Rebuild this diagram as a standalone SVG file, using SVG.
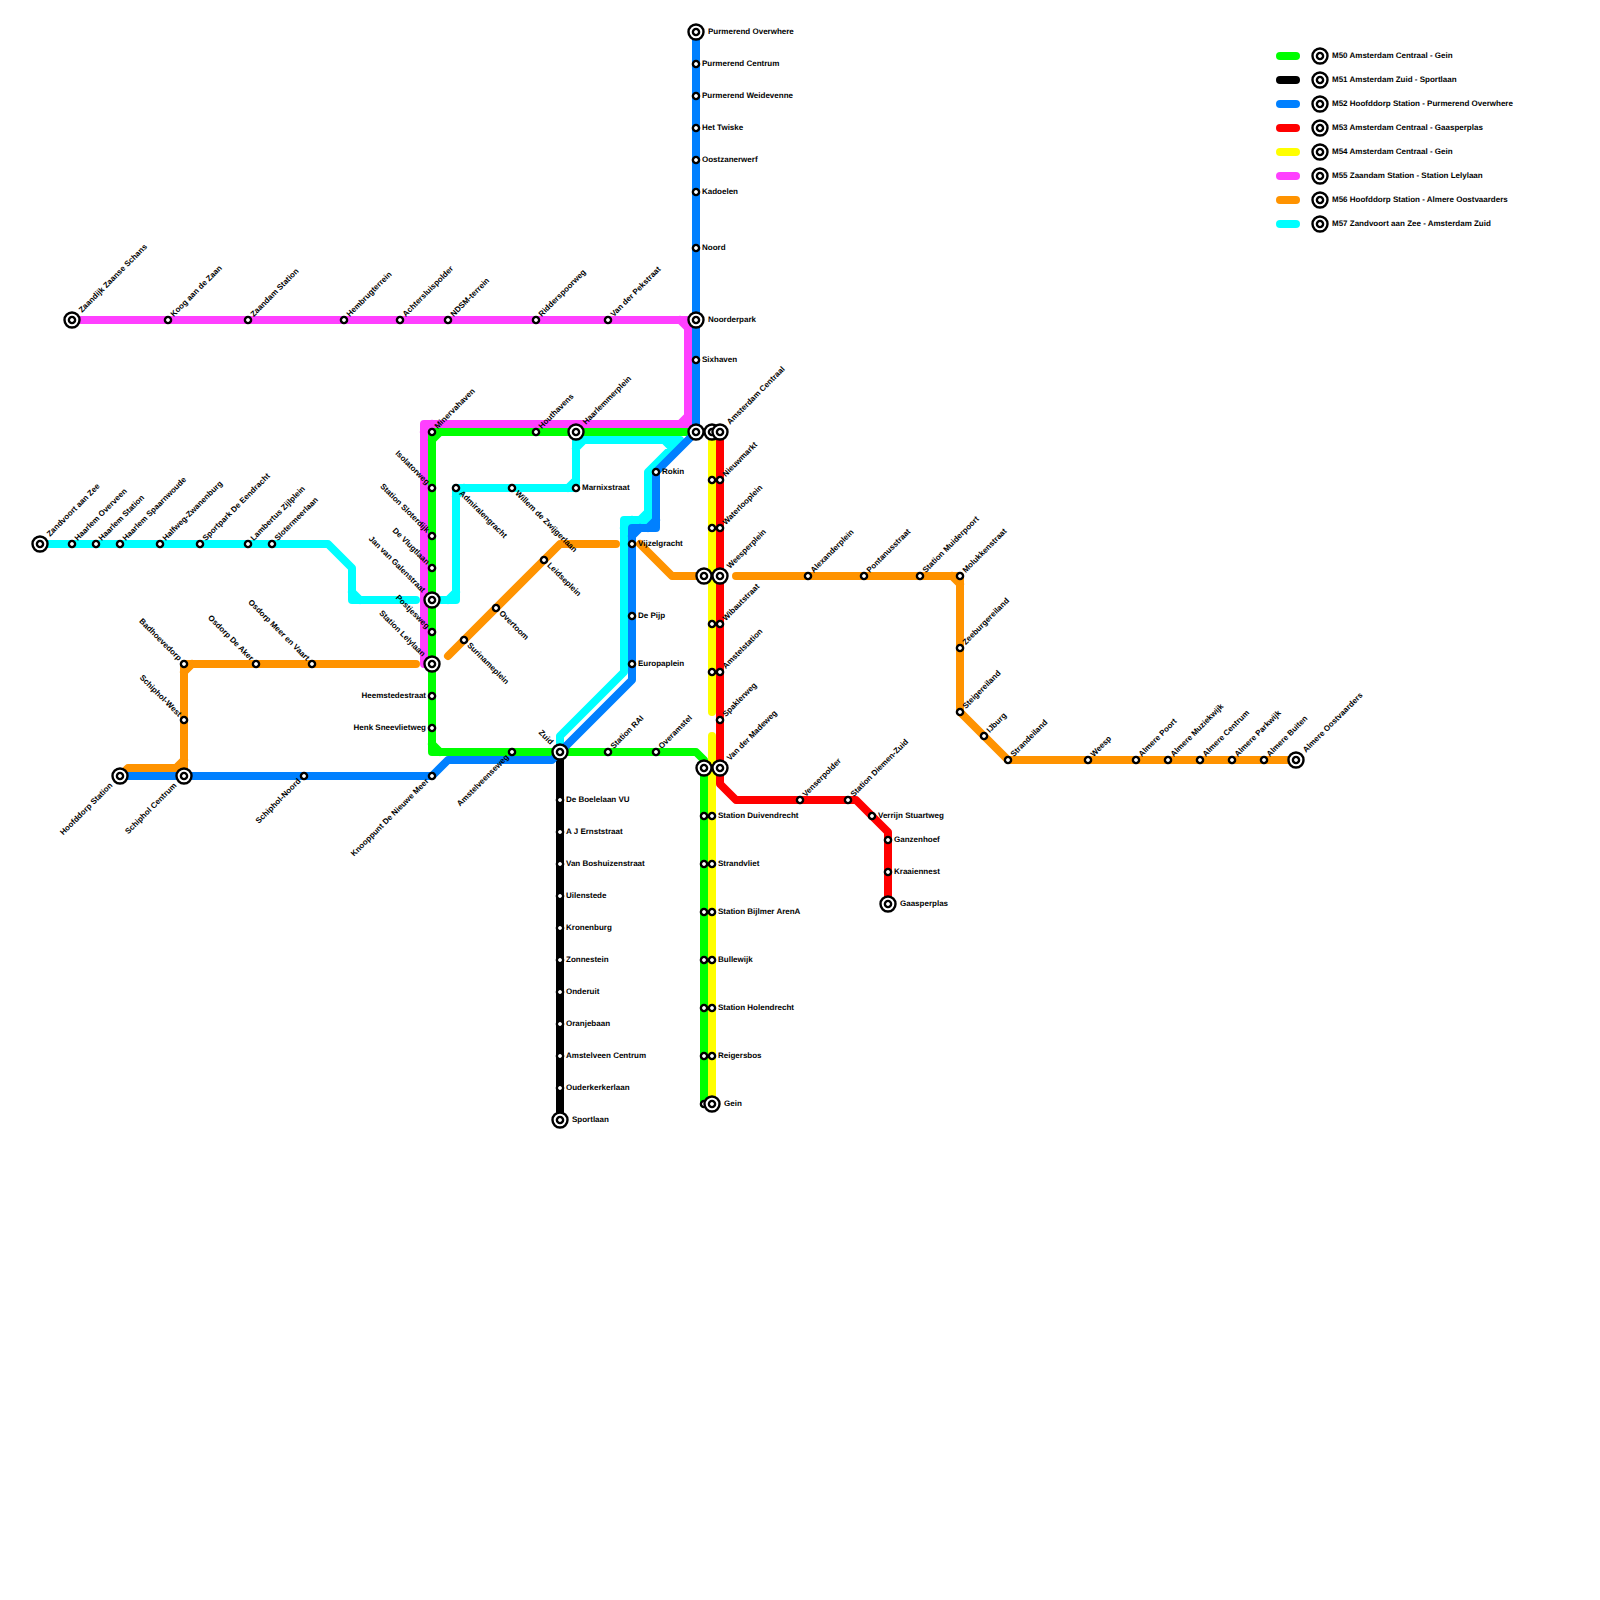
<svg xmlns="http://www.w3.org/2000/svg" width="1600" height="1600" viewBox="0 0 1600 1600">
<style>
.ln{fill:none;stroke-width:8;stroke-linecap:round;stroke-linejoin:round}
.ring{fill:#fff;stroke:#000;stroke-width:2.4}
text{font-family:"Liberation Sans",Arial,sans-serif;font-size:8px;font-weight:700;fill:#000;text-rendering:geometricPrecision}
.e{text-anchor:end}
</style>
<defs>
<g id="s"><circle class="ring" r="3.1"/></g>
<g id="b"><circle class="ring" r="7.5"/><circle class="ring" r="3.1"/></g>
</defs>
<rect width="1600" height="1600" fill="#fff"/>
<g id="connectors">
<path id="M55" class="ln" stroke="#ff40ff" d="M72,320H688V424H424V664H432M680,320L688,328M688,416L680,424M432,424L424,432"/>
<path id="M56" class="ln" stroke="#ff9300" d="M120,776L128,768H184M184,776V664H416M176,768L184,760M184,672L192,664M448,656L560,544H616M640,544L672,576H704M736,576H960V712L1008,760H1296M952,576L960,584"/>
<path id="M57" class="ln" stroke="#00ffff" d="M40,544H328L352,568V600H416M352,592L360,600M432,600H456V488H576V440H680L648,472V520H624V672L560,736V752M448,600L456,592M456,496L464,488M568,488L576,480M576,448L584,440M664,440L672,448M648,512L640,520M632,520L624,528"/>
<path id="M50" class="ln" stroke="#00ff00" d="M696,432H432V752H696L704,760V1104M440,432L432,440M432,744L440,752"/>
<path id="M51" class="ln" stroke="#000" d="M560,752V1120"/>
<path id="M52" class="ln" stroke="#0080ff" d="M120,776H432L448,760H552L560,752L632,680V528H656V472L696,432V32M632,536L640,528M648,528L656,520"/>
<path id="M53" class="ln" stroke="#ff0000" d="M720,432V784L736,800H856L888,832V904"/>
<path id="M54" class="ln" stroke="#ffff00" d="M712,432V712M712,736V1104"/>
</g>
<g id="nodes">
<g id="n1" transform="translate(72,320)"><use href="#b"/><text x="12" y="2" transform="rotate(-45)">Zaandijk Zaanse Schans</text></g>
<g id="n2" transform="translate(168,320)"><use href="#s"/><text x="6" y="2" transform="rotate(-45)">Koog aan de Zaan</text></g>
<g id="n3" transform="translate(248,320)"><use href="#s"/><text x="6" y="2" transform="rotate(-45)">Zaandam Station</text></g>
<g id="n4" transform="translate(344,320)"><use href="#s"/><text x="6" y="2" transform="rotate(-45)">Hembrugterrein</text></g>
<g id="n5" transform="translate(400,320)"><use href="#s"/><text x="6" y="2" transform="rotate(-45)">Achtersluispolder</text></g>
<g id="n6" transform="translate(448,320)"><use href="#s"/><text x="6" y="2" transform="rotate(-45)">NDSM-terrein</text></g>
<g id="n7" transform="translate(536,320)"><use href="#s"/><text x="6" y="2" transform="rotate(-45)">Ridderspoorweg</text></g>
<g id="n8" transform="translate(608,320)"><use href="#s"/><text x="6" y="2" transform="rotate(-45)">Van der Pekstraat</text></g>
<g id="n9" transform="translate(696,32)"><use href="#b"/><text x="12" y="2">Purmerend Overwhere</text></g>
<g id="n10" transform="translate(696,64)"><use href="#s"/><text x="6" y="2">Purmerend Centrum</text></g>
<g id="n11" transform="translate(696,96)"><use href="#s"/><text x="6" y="2">Purmerend Weidevenne</text></g>
<g id="n12" transform="translate(696,128)"><use href="#s"/><text x="6" y="2">Het Twiske</text></g>
<g id="n13" transform="translate(696,160)"><use href="#s"/><text x="6" y="2">Oostzanerwerf</text></g>
<g id="n14" transform="translate(696,192)"><use href="#s"/><text x="6" y="2">Kadoelen</text></g>
<g id="n15" transform="translate(696,248)"><use href="#s"/><text x="6" y="2">Noord</text></g>
<g id="n16" transform="translate(696,320)"><use href="#b"/><text x="12" y="2">Noorderpark</text></g>
<g id="n17" transform="translate(696,360)"><use href="#s"/><text x="6" y="2">Sixhaven</text></g>
<g id="n18" transform="translate(696,432)"><use href="#b"/></g>
<g id="n19" transform="translate(712,432)"><use href="#b"/></g>
<g id="n20" transform="translate(720,432)"><use href="#b"/><text x="12" y="2" transform="rotate(-45)">Amsterdam Centraal</text></g>
<g id="n21" transform="translate(432,432)"><use href="#s"/><text x="6" y="2" transform="rotate(-45)">Minervahaven</text></g>
<g id="n22" transform="translate(536,432)"><use href="#s"/><text x="6" y="2" transform="rotate(-45)">Houthavens</text></g>
<g id="n23" transform="translate(576,432)"><use href="#b"/><text x="12" y="2" transform="rotate(-45)">Haarlemmerplein</text></g>
<g id="n24" transform="translate(432,488)"><use href="#s"/><text class="e" x="-6" y="2" transform="rotate(45)">Isolatorweg</text></g>
<g id="n25" transform="translate(432,536)"><use href="#s"/><text class="e" x="-6" y="2" transform="rotate(45)">Station Sloterdijk</text></g>
<g id="n26" transform="translate(432,568)"><use href="#s"/><text class="e" x="-6" y="2" transform="rotate(45)">De Vlugtlaan</text></g>
<g id="n27" transform="translate(432,600)"><use href="#b"/><text class="e" x="-12" y="2" transform="rotate(45)">Jan van Galenstraat</text></g>
<g id="n28" transform="translate(432,632)"><use href="#s"/><text class="e" x="-6" y="2" transform="rotate(45)">Postjesweg</text></g>
<g id="n29" transform="translate(432,664)"><use href="#b"/><text class="e" x="-12" y="2" transform="rotate(45)">Station Lelylaan</text></g>
<g id="n30" transform="translate(432,696)"><use href="#s"/><text class="e" x="-6" y="2">Heemstedestraat</text></g>
<g id="n31" transform="translate(432,728)"><use href="#s"/><text class="e" x="-6" y="2">Henk Sneevlietweg</text></g>
<g id="n32" transform="translate(512,752)"><use href="#s"/><text class="e" x="-6" y="2" transform="rotate(-45)">Amstelveenseweg</text></g>
<g id="n33" transform="translate(560,752)"><use href="#b"/><text class="e" x="-12" y="2" transform="rotate(45)">Zuid</text></g>
<g id="n34" transform="translate(608,752)"><use href="#s"/><text x="6" y="2" transform="rotate(-45)">Station RAI</text></g>
<g id="n35" transform="translate(656,752)"><use href="#s"/><text x="6" y="2" transform="rotate(-45)">Overamstel</text></g>
<g id="n36" transform="translate(704,768)"><use href="#b"/></g>
<g id="n37" transform="translate(720,768)"><use href="#b"/><text x="12" y="2" transform="rotate(-45)">Van der Madeweg</text></g>
<g id="n38" transform="translate(704,816)"><use href="#s"/></g>
<g id="n39" transform="translate(712,816)"><use href="#s"/><text x="6" y="2">Station Duivendrecht</text></g>
<g id="n40" transform="translate(704,864)"><use href="#s"/></g>
<g id="n41" transform="translate(712,864)"><use href="#s"/><text x="6" y="2">Strandvliet</text></g>
<g id="n42" transform="translate(704,912)"><use href="#s"/></g>
<g id="n43" transform="translate(712,912)"><use href="#s"/><text x="6" y="2">Station Bijlmer ArenA</text></g>
<g id="n44" transform="translate(704,960)"><use href="#s"/></g>
<g id="n45" transform="translate(712,960)"><use href="#s"/><text x="6" y="2">Bullewijk</text></g>
<g id="n46" transform="translate(704,1008)"><use href="#s"/></g>
<g id="n47" transform="translate(712,1008)"><use href="#s"/><text x="6" y="2">Station Holendrecht</text></g>
<g id="n48" transform="translate(704,1056)"><use href="#s"/></g>
<g id="n49" transform="translate(712,1056)"><use href="#s"/><text x="6" y="2">Reigersbos</text></g>
<g id="n50" transform="translate(704,1104)"><use href="#s"/></g>
<g id="n51" transform="translate(712,1104)"><use href="#b"/><text x="12" y="2">Gein</text></g>
<g id="n52" transform="translate(560,800)"><use href="#s"/><text x="6" y="2">De Boelelaan VU</text></g>
<g id="n53" transform="translate(560,832)"><use href="#s"/><text x="6" y="2">A J Ernststraat</text></g>
<g id="n54" transform="translate(560,864)"><use href="#s"/><text x="6" y="2">Van Boshuizenstraat</text></g>
<g id="n55" transform="translate(560,896)"><use href="#s"/><text x="6" y="2">Uilenstede</text></g>
<g id="n56" transform="translate(560,928)"><use href="#s"/><text x="6" y="2">Kronenburg</text></g>
<g id="n57" transform="translate(560,960)"><use href="#s"/><text x="6" y="2">Zonnestein</text></g>
<g id="n58" transform="translate(560,992)"><use href="#s"/><text x="6" y="2">Onderuit</text></g>
<g id="n59" transform="translate(560,1024)"><use href="#s"/><text x="6" y="2">Oranjebaan</text></g>
<g id="n60" transform="translate(560,1056)"><use href="#s"/><text x="6" y="2">Amstelveen Centrum</text></g>
<g id="n61" transform="translate(560,1088)"><use href="#s"/><text x="6" y="2">Ouderkerkerlaan</text></g>
<g id="n62" transform="translate(560,1120)"><use href="#b"/><text x="12" y="2">Sportlaan</text></g>
<g id="n63" transform="translate(120,776)"><use href="#b"/><text class="e" x="-12" y="2" transform="rotate(-45)">Hoofddorp Station</text></g>
<g id="n64" transform="translate(184,776)"><use href="#b"/><text class="e" x="-12" y="2" transform="rotate(-45)">Schiphol Centrum</text></g>
<g id="n65" transform="translate(304,776)"><use href="#s"/><text class="e" x="-6" y="2" transform="rotate(-45)">Schiphol-Noord</text></g>
<g id="n66" transform="translate(432,776)"><use href="#s"/><text class="e" x="-6" y="2" transform="rotate(-45)">Knooppunt De Nieuwe Meer</text></g>
<g id="n67" transform="translate(632,544)"><use href="#s"/><text x="6" y="2">Vijzelgracht</text></g>
<g id="n68" transform="translate(632,616)"><use href="#s"/><text x="6" y="2">De Pijp</text></g>
<g id="n69" transform="translate(632,664)"><use href="#s"/><text x="6" y="2">Europaplein</text></g>
<g id="n70" transform="translate(656,472)"><use href="#s"/><text x="6" y="2">Rokin</text></g>
<g id="n71" transform="translate(712,480)"><use href="#s"/></g>
<g id="n72" transform="translate(720,480)"><use href="#s"/><text x="6" y="2" transform="rotate(-45)">Nieuwmarkt</text></g>
<g id="n73" transform="translate(712,528)"><use href="#s"/></g>
<g id="n74" transform="translate(720,528)"><use href="#s"/><text x="6" y="2" transform="rotate(-45)">Waterlooplein</text></g>
<g id="n75" transform="translate(704,576)"><use href="#b"/></g>
<g id="n76" transform="translate(720,576)"><use href="#b"/><text x="12" y="2" transform="rotate(-45)">Weesperplein</text></g>
<g id="n77" transform="translate(712,624)"><use href="#s"/></g>
<g id="n78" transform="translate(720,624)"><use href="#s"/><text x="6" y="2" transform="rotate(-45)">Wibautstraat</text></g>
<g id="n79" transform="translate(712,672)"><use href="#s"/></g>
<g id="n80" transform="translate(720,672)"><use href="#s"/><text x="6" y="2" transform="rotate(-45)">Amstelstation</text></g>
<g id="n81" transform="translate(720,720)"><use href="#s"/><text x="6" y="2" transform="rotate(-45)">Spaklerweg</text></g>
<g id="n82" transform="translate(800,800)"><use href="#s"/><text x="6" y="2" transform="rotate(-45)">Venserpolder</text></g>
<g id="n83" transform="translate(848,800)"><use href="#s"/><text x="6" y="2" transform="rotate(-45)">Station Diemen-Zuid</text></g>
<g id="n84" transform="translate(872,816)"><use href="#s"/><text x="6" y="2">Verrijn Stuartweg</text></g>
<g id="n85" transform="translate(888,840)"><use href="#s"/><text x="6" y="2">Ganzenhoef</text></g>
<g id="n86" transform="translate(888,872)"><use href="#s"/><text x="6" y="2">Kraaiennest</text></g>
<g id="n87" transform="translate(888,904)"><use href="#b"/><text x="12" y="2">Gaasperplas</text></g>
<g id="n88" transform="translate(40,544)"><use href="#b"/><text x="12" y="2" transform="rotate(-45)">Zandvoort aan Zee</text></g>
<g id="n89" transform="translate(72,544)"><use href="#s"/><text x="6" y="2" transform="rotate(-45)">Haarlem Overveen</text></g>
<g id="n90" transform="translate(96,544)"><use href="#s"/><text x="6" y="2" transform="rotate(-45)">Haarlem Station</text></g>
<g id="n91" transform="translate(120,544)"><use href="#s"/><text x="6" y="2" transform="rotate(-45)">Haarlem Spaarnwoude</text></g>
<g id="n92" transform="translate(160,544)"><use href="#s"/><text x="6" y="2" transform="rotate(-45)">Halfweg-Zwanenburg</text></g>
<g id="n93" transform="translate(200,544)"><use href="#s"/><text x="6" y="2" transform="rotate(-45)">Sportpark De Eendracht</text></g>
<g id="n94" transform="translate(248,544)"><use href="#s"/><text x="6" y="2" transform="rotate(-45)">Lambertus Zijlplein</text></g>
<g id="n95" transform="translate(272,544)"><use href="#s"/><text x="6" y="2" transform="rotate(-45)">Slotermeerlaan</text></g>
<g id="n96" transform="translate(456,488)"><use href="#s"/><text x="6" y="2" transform="rotate(45)">Admiralengracht</text></g>
<g id="n97" transform="translate(512,488)"><use href="#s"/><text x="6" y="2" transform="rotate(45)">Willem de Zwijgerlaan</text></g>
<g id="n98" transform="translate(576,488)"><use href="#s"/><text x="6" y="2">Marnixstraat</text></g>
<g id="n99" transform="translate(184,664)"><use href="#s"/><text class="e" x="-6" y="2" transform="rotate(45)">Badhoevedorp</text></g>
<g id="n100" transform="translate(184,720)"><use href="#s"/><text class="e" x="-6" y="2" transform="rotate(45)">Schiphol-West</text></g>
<g id="n101" transform="translate(256,664)"><use href="#s"/><text class="e" x="-6" y="2" transform="rotate(45)">Osdorp De Aker</text></g>
<g id="n102" transform="translate(312,664)"><use href="#s"/><text class="e" x="-6" y="2" transform="rotate(45)">Osdorp Meer en Vaart</text></g>
<g id="n103" transform="translate(464,640)"><use href="#s"/><text x="6" y="2" transform="rotate(45)">Surinameplein</text></g>
<g id="n104" transform="translate(496,608)"><use href="#s"/><text x="6" y="2" transform="rotate(45)">Overtoom</text></g>
<g id="n105" transform="translate(544,560)"><use href="#s"/><text x="6" y="2" transform="rotate(45)">Leidseplein</text></g>
<g id="n106" transform="translate(808,576)"><use href="#s"/><text x="6" y="2" transform="rotate(-45)">Alexanderplein</text></g>
<g id="n107" transform="translate(864,576)"><use href="#s"/><text x="6" y="2" transform="rotate(-45)">Pontanusstraat</text></g>
<g id="n108" transform="translate(920,576)"><use href="#s"/><text x="6" y="2" transform="rotate(-45)">Station Muiderpoort</text></g>
<g id="n109" transform="translate(960,576)"><use href="#s"/><text x="6" y="2" transform="rotate(-45)">Molukkenstraat</text></g>
<g id="n110" transform="translate(960,648)"><use href="#s"/><text x="6" y="2" transform="rotate(-45)">Zeeburgereiland</text></g>
<g id="n111" transform="translate(960,712)"><use href="#s"/><text x="6" y="2" transform="rotate(-45)">Steigereiland</text></g>
<g id="n112" transform="translate(984,736)"><use href="#s"/><text x="6" y="2" transform="rotate(-45)">IJburg</text></g>
<g id="n113" transform="translate(1008,760)"><use href="#s"/><text x="6" y="2" transform="rotate(-45)">Strandeiland</text></g>
<g id="n114" transform="translate(1088,760)"><use href="#s"/><text x="6" y="2" transform="rotate(-45)">Weesp</text></g>
<g id="n115" transform="translate(1136,760)"><use href="#s"/><text x="6" y="2" transform="rotate(-45)">Almere Poort</text></g>
<g id="n116" transform="translate(1168,760)"><use href="#s"/><text x="6" y="2" transform="rotate(-45)">Almere Muziekwijk</text></g>
<g id="n117" transform="translate(1200,760)"><use href="#s"/><text x="6" y="2" transform="rotate(-45)">Almere Centrum</text></g>
<g id="n118" transform="translate(1232,760)"><use href="#s"/><text x="6" y="2" transform="rotate(-45)">Almere Parkwijk</text></g>
<g id="n119" transform="translate(1264,760)"><use href="#s"/><text x="6" y="2" transform="rotate(-45)">Almere Buiten</text></g>
<g id="n120" transform="translate(1296,760)"><use href="#b"/><text x="12" y="2" transform="rotate(-45)">Almere Oostvaarders</text></g>
</g>
<g id="legend">
<g transform="translate(1320,56)"><path class="ln" stroke="#00ff00" d="M-40,0H-24"/><use href="#b"/><text x="12" y="2">M50 Amsterdam Centraal - Gein</text></g>
<g transform="translate(1320,80)"><path class="ln" stroke="#000" d="M-40,0H-24"/><use href="#b"/><text x="12" y="2">M51 Amsterdam Zuid - Sportlaan</text></g>
<g transform="translate(1320,104)"><path class="ln" stroke="#0080ff" d="M-40,0H-24"/><use href="#b"/><text x="12" y="2">M52 Hoofddorp Station - Purmerend Overwhere</text></g>
<g transform="translate(1320,128)"><path class="ln" stroke="#ff0000" d="M-40,0H-24"/><use href="#b"/><text x="12" y="2">M53 Amsterdam Centraal - Gaasperplas</text></g>
<g transform="translate(1320,152)"><path class="ln" stroke="#ffff00" d="M-40,0H-24"/><use href="#b"/><text x="12" y="2">M54 Amsterdam Centraal - Gein</text></g>
<g transform="translate(1320,176)"><path class="ln" stroke="#ff40ff" d="M-40,0H-24"/><use href="#b"/><text x="12" y="2">M55 Zaandam Station - Station Lelylaan</text></g>
<g transform="translate(1320,200)"><path class="ln" stroke="#ff9300" d="M-40,0H-24"/><use href="#b"/><text x="12" y="2">M56 Hoofddorp Station - Almere Oostvaarders</text></g>
<g transform="translate(1320,224)"><path class="ln" stroke="#00ffff" d="M-40,0H-24"/><use href="#b"/><text x="12" y="2">M57 Zandvoort aan Zee - Amsterdam Zuid</text></g>
</g>
</svg>
